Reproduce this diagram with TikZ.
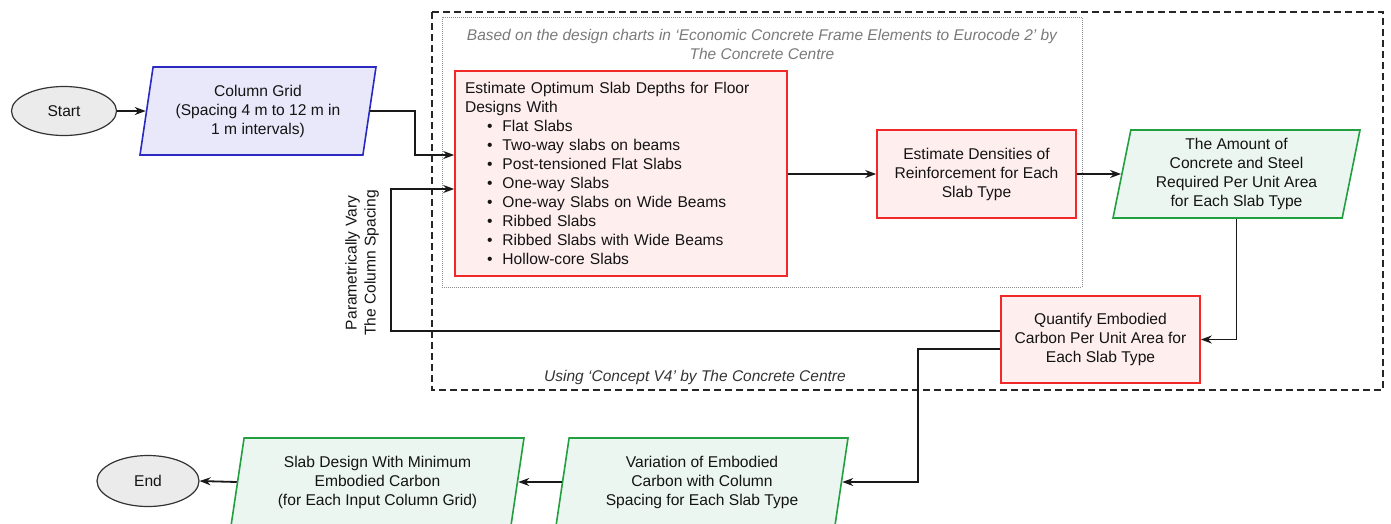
\documentclass[tikz,border=0pt]{standalone}
\usepackage{fontspec}
\setmainfont{Liberation Sans}
\usetikzlibrary{shapes.geometric,arrows.meta}

\definecolor{redline}{HTML}{F02828}
\definecolor{redfill}{HTML}{FFEEEE}
\definecolor{greenline}{HTML}{22A040}
\definecolor{greenfill}{HTML}{ECF6F0}
\definecolor{blueline}{HTML}{2A2AC0}
\definecolor{bluefill}{HTML}{E8E8FA}
\definecolor{termfill}{HTML}{EBEBEB}
\definecolor{notegray}{HTML}{7A7A7A}

\tikzset{
  every node/.style={font=\fontsize{15.6}{19}\selectfont, text=black!92, inner sep=0pt},
  procbox/.style={draw=redline, fill=redfill, line width=1.6pt, align=center},
  iobox/.style={shape=trapezium, trapezium left angle=76, trapezium right angle=104,
    trapezium stretches body, line width=1.6pt, align=center, minimum height=88pt},
  inputbox/.style={iobox, draw=blueline, fill=bluefill},
  outputbox/.style={iobox, draw=greenline, fill=greenfill},
  terminal/.style={ellipse, draw=black!80, fill=termfill, line width=1.2pt},
  arr/.style={draw=black!90, line width=1.8pt, -{Stealth[length=11pt,width=8pt]}},
  note/.style={font=\fontsize{15.5}{19}\selectfont\itshape, align=center}
}
\newcommand{\slabitem}[1]{\hspace*{22pt}\textbullet\hspace{10pt}#1}

\begin{document}
\begin{tikzpicture}[x=1pt,y=-1pt]
\useasboundingbox (0,0) rectangle (1391,523);

% frames around the two tool-based stages
\draw[black!85, line width=1.5pt, dash pattern=on 7pt off 4pt] (432,12) rectangle (1383,390);
\draw[black!45, line width=1pt, densely dotted] (442,17) rectangle (1082,287);

\node[note, text=notegray] (chartnote) at (762,44)
  {Based on the design charts in ‘Economic Concrete Frame Elements to Eurocode 2’ by\\The Concrete Centre};
\node[note, text=black!80] (conceptnote) at (695,377) {Using ‘Concept V4’ by The Concrete Centre};

% terminals
\node[terminal, minimum width=105pt, minimum height=49pt] (start) at (64,111) {Start};
\node[terminal, minimum width=102pt, minimum height=51pt] (end) at (148,481) {End};

% inputs and outputs
\node[inputbox, minimum width=236pt] (grid) at (258,111)
  {Column Grid\\(Spacing 4 m to 12 m in\\1 m intervals)};
\node[outputbox, minimum width=247pt] (amount) at (1236.5,174)
  {The Amount of\\Concrete and Steel\\Required Per Unit Area\\for Each Slab Type};
\node[outputbox, minimum width=292pt] (variation) at (702,482)
  {Variation of Embodied\\Carbon with Column\\Spacing for Each Slab Type};
\node[outputbox, minimum width=293pt] (mindesign) at (377.5,482)
  {Slab Design With Minimum\\Embodied Carbon\\(for Each Input Column Grid)};

% processes
\node[procbox, minimum width=332pt, minimum height=205pt, text width=312pt, align=left]
  (depths) at (621,173.5)
  {Estimate Optimum Slab Depths for Floor\\Designs With\\
   \slabitem{Flat Slabs}\\
   \slabitem{Two-way slabs on beams}\\
   \slabitem{Post-tensioned Flat Slabs}\\
   \slabitem{One-way Slabs}\\
   \slabitem{One-way Slabs on Wide Beams}\\
   \slabitem{Ribbed Slabs}\\
   \slabitem{Ribbed Slabs with Wide Beams}\\
   \slabitem{Hollow-core Slabs}};
\node[procbox, minimum width=199pt, minimum height=88pt] (densities) at (976.5,174)
  {Estimate Densities of\\Reinforcement for Each\\Slab Type};
\node[procbox, minimum width=199pt, minimum height=87pt] (carbon) at (1100.5,339.5)
  {Quantify Embodied\\Carbon Per Unit Area for\\Each Slab Type};

% loop label
\node[rotate=90, align=center] (looplabel) at (362,263)
  {Parametrically Vary\\The Column Spacing};

% connectors
\draw[arr] (start) -- (grid);
\draw[arr] (grid.east) -- ++(45,0) |- ([yshift=18.5pt]depths.west);
\draw[arr] ([yshift=8.5pt]carbon.west) -- ++(-609,0) |- ([yshift=-15.5pt]depths.west);
\draw[arr] (depths.east |- densities.west) -- (densities.west);
\draw[arr] (densities.east) -- (amount.west);
\draw[arr] (amount.south) |- (carbon.east);
\draw[arr] ([yshift=-9.5pt]carbon.west) -- ++(-82,0) |- (variation.east);
\draw[arr] (variation.west) -- (mindesign.east);
\draw[arr] (mindesign.west) -- (end.east);
\end{tikzpicture}
\end{document}
